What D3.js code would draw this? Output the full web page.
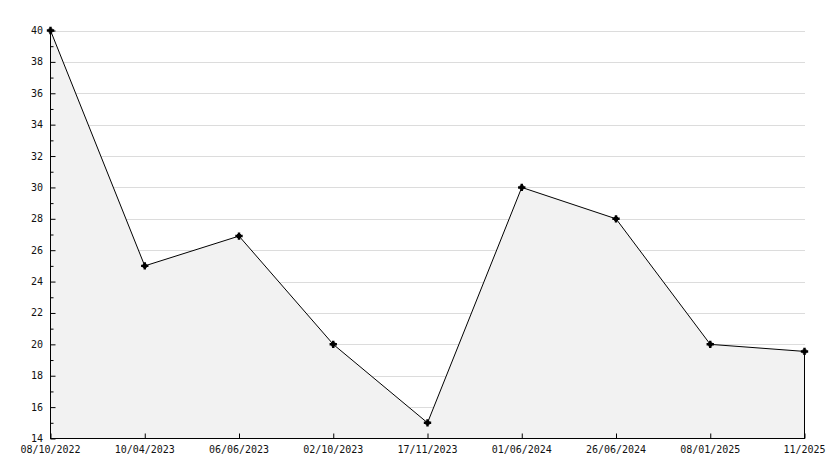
<!DOCTYPE html>
<html><head><meta charset="utf-8">
<script src="https://cdn.jsdelivr.net/npm/d3@7"></script>
<style>
body{margin:0;background:#fff;}
text{font-family:"DejaVu Sans Mono",monospace;font-size:10px;fill:#111;}
</style></head><body>
<svg id="c" width="834" height="468"></svg>
<script>
const categories = ["08/10/2022","10/04/2023","06/06/2023","02/10/2023","17/11/2023","01/06/2024","26/06/2024","08/01/2025","11/2025"];
const values = [40, 25, 26.9, 20, 15, 30, 28, 20, 19.55];
const yTicks = [14,16,18,20,22,24,26,28,30,32,34,36,38,40];
const yMinor = [15,17,19,21,23,25,27,29,31,33,35,37,39];

const svg = d3.select("#c");
const x = d3.scalePoint().domain(categories).range([50.5, 804.5]);
const y = d3.scaleLinear().domain([14, 40]).range([438.5, 30.5]);

// grid
svg.append("g").selectAll("line").data(yTicks.slice(1)).join("line")
  .attr("x1", 50).attr("x2", 805)
  .attr("y1", d=>Math.round(y(d))+0.5).attr("y2", d=>Math.round(y(d))+0.5)
  .attr("stroke", "#dcdcdc").attr("stroke-width",1);

const pts = categories.map((c,i)=>[x(c), y(values[i])]);
// area
const area = d3.area().x(d=>d[0]).y0(y(14)).y1(d=>d[1]);
svg.append("path").datum(pts).attr("d", area).attr("fill", "#f2f2f2");
// right edge line
svg.append("line").attr("x1", x(categories[categories.length-1])).attr("x2", x(categories[categories.length-1]))
  .attr("y1", y(values[values.length-1])).attr("y2", y(14)).attr("stroke","#000").attr("shape-rendering","crispEdges");
// line
svg.append("path").datum(pts).attr("d", d3.line()).attr("fill","none").attr("stroke","#000").attr("stroke-width",1);

// axes
const yAxis = d3.axisRight(y).tickValues(yTicks).tickSize(5).tickFormat("");
const gy = svg.append("g").attr("transform","translate(50.5,0)").call(yAxis);
gy.select(".domain").attr("d", `M0,${y(40)}V${y(14)}`).attr("stroke","#000");
gy.selectAll(".tick line").attr("stroke","#000");
const gym = svg.append("g").attr("transform","translate(50.5,0)").call(d3.axisRight(y).tickValues(yMinor).tickSize(3).tickFormat(""));
gym.select(".domain").remove();
gym.selectAll(".tick line").attr("stroke","#000");
svg.append("g").selectAll("text").data(yTicks).join("text")
  .attr("x", 43).attr("y", d=>y(d)).attr("dy","0.35em").attr("text-anchor","end").text(d=>d);

const xAxis = d3.axisTop(x).tickSize(5).tickFormat("");
const gx = svg.append("g").attr("transform","translate(0,438.5)").call(xAxis);
gx.select(".domain").attr("d", `M50,0H805`).attr("stroke","#000");
gx.selectAll(".tick line").attr("stroke","#000");
svg.append("g").selectAll("text").data(categories).join("text")
  .attr("x", d=>x(d)).attr("y", 449).attr("dy","0.35em").attr("text-anchor","middle").text(d=>d);

// markers
const mk = svg.append("g").selectAll("g").data(pts).join("g").attr("transform", d=>`translate(${d[0]},${d[1]})`);
mk.append("rect").attr("x",-2).attr("y",-2).attr("width",4).attr("height",4).attr("fill","#000");
mk.append("path").attr("d", d3.symbol().type(d3.symbolCross).size(30)).attr("fill","#000");
</script>
</body></html>
